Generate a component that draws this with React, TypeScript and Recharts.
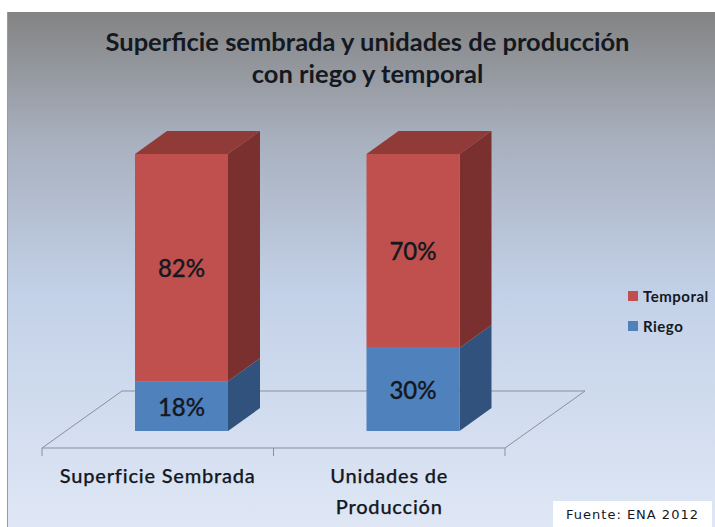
import React from "react";
import { BarChart, Bar, XAxis, YAxis, LabelList, Legend, usePlotArea } from "recharts";

const categories = ["Superficie Sembrada", "Unidades de\nProducción"];
const riego = [18, 30];
const temporal = [82, 70];
const titleLines = ["Superficie sembrada y unidades de producción", "con riego y temporal"];
const sourceNote = "Fuente: ENA 2012";

const rows = categories.map((name, i) => ({ name, riego: riego[i], temporal: temporal[i] }));

const FONT = "Lato, 'Open Sans', sans-serif";
const INK = "#14181f";
// Oblique projection of the fake 3D look
const DX = 32;
const DY = 23;
// Front faces sit on the floor, in from its front edge
const SHIFT_X = 24;
const SHIFT_Y = 17;
const FLOOR_DX = 80;
const FLOOR_DY = 57;

const pts = (a: number[][]) => a.map((p) => p.join(",")).join(" ");

function Box(props: any) {
  const { x, y, width: w, height: h, front, side, top } = props;
  const l = x + SHIFT_X;
  const t = y - SHIFT_Y;
  const r = l + w;
  const b = t + h;
  return (
    <g>
      {top && <polygon points={pts([[l, t], [l + DX, t - DY], [r + DX, t - DY], [r, t]])} fill={top} />}
      <polygon points={pts([[r, t], [r + DX, t - DY], [r + DX, b - DY], [r, b]])} fill={side} />
      <rect x={l} y={t} width={w} height={h} fill={front} />
    </g>
  );
}

function Pct(props: any) {
  const { x, y, width, height, value } = props;
  return (
    <text
      x={x + SHIFT_X + width / 2}
      y={y - SHIFT_Y + height / 2}
      textAnchor="middle"
      dominantBaseline="central"
      fontFamily={FONT}
      fontSize={24}
      fontWeight={500}
      stroke={INK}
      strokeWidth={0.3}
      fill={INK}
    >
      {value}%
    </text>
  );
}

function Floor() {
  const area = usePlotArea();
  if (!area) return null;
  const { x, y, width, height } = area;
  const yb = y + height;
  const stroke = "#8b9097";
  return (
    <g>
      <polygon
        points={pts([[x, yb], [x + width, yb], [x + width + FLOOR_DX, yb - FLOOR_DY], [x + FLOOR_DX, yb - FLOOR_DY]])}
        fill="none"
        stroke={stroke}
        strokeWidth={1}
      />
      {[0, 0.5, 1].map((f) => (
        <line key={f} x1={x + width * f} x2={x + width * f} y1={yb} y2={yb + 8} stroke={stroke} strokeWidth={1} />
      ))}
    </g>
  );
}

function CategoryTick(props: any) {
  const { x, y, payload } = props;
  const lines = String(payload.value).split("\n");
  return (
    <text
      textAnchor="middle"
      fontFamily={FONT}
      fontSize={20}
      letterSpacing={0.8}
      fontWeight={500}
      stroke={INK}
      strokeWidth={0.25}
      fill={INK}
    >
      {lines.map((line, i) => (
        <tspan key={line} x={x} y={y + 27 + i * 31}>
          {line}
        </tspan>
      ))}
    </text>
  );
}

function LegendBox(props: any) {
  const items = [...(props.payload || [])].reverse();
  return (
    <div style={{ fontFamily: FONT, fontSize: 15, letterSpacing: 0.5, fontWeight: 700, color: INK }}>
      {items.map((it: any) => (
        <div key={it.value} style={{ display: "flex", alignItems: "center", height: 30 }}>
          <span style={{ width: 10, height: 10, background: it.color, marginRight: 5, display: "inline-block" }} />
          {it.value}
        </div>
      ))}
    </div>
  );
}

export default function App() {
  return (
    <div style={{ position: "absolute", left: 0, top: 0, width: 715, height: 527, background: "#fff", overflow: "hidden" }}>
      <div
        style={{
          position: "absolute",
          left: 7,
          top: 12,
          width: 708,
          height: 515,
          borderLeft: "1px solid #9a9a9a",
          boxSizing: "border-box",
          background: "linear-gradient(180deg,#838383 0%,#a7afbd 24%,#c3d1e8 55%,#dfe7f5 100%)",
        }}
      />
      <div
        style={{
          position: "absolute",
          left: 0,
          top: 9,
          width: 735,
          textAlign: "center",
          fontFamily: FONT,
          fontSize: 25.5,
          fontWeight: 700,
          lineHeight: "32px",
          color: INK,
          paddingTop: 16,
        }}
      >
        <div>{titleLines[0]}</div>
        <div>{titleLines[1]}</div>
      </div>
      <div style={{ position: "absolute", left: 0, top: 0 }}>
        <BarChart width={715} height={527} data={rows} margin={{ left: 42, right: 118, top: 171, bottom: 0 }}>
          <Floor />
          <XAxis dataKey="name" axisLine={false} tickLine={false} tick={<CategoryTick />} interval={0} height={79} />
          <YAxis hide domain={[0, 100]} />
          <Legend
            layout="vertical"
            align="right"
            verticalAlign="top"
            wrapperStyle={{ left: 628, top: 281, width: 92 }}
            content={<LegendBox />}
          />
          <Bar
            dataKey="riego"
            name="Riego"
            stackId="a"
            fill="#4f81bd"
            barSize={93}
            isAnimationActive={false}
            shape={<Box front="#4f81bd" side="#30527c" />}
          >
            <LabelList dataKey="riego" content={<Pct />} />
          </Bar>
          <Bar
            dataKey="temporal"
            name="Temporal"
            stackId="a"
            fill="#c0504d"
            barSize={93}
            isAnimationActive={false}
            shape={<Box front="#c0504d" side="#7a302e" top="#913b38" />}
          >
            <LabelList dataKey="temporal" content={<Pct />} />
          </Bar>
        </BarChart>
      </div>
      <div
        style={{
          position: "absolute",
          left: 553,
          top: 501,
          width: 159,
          height: 26,
          background: "#fff",
          fontFamily: "'DejaVu Sans', sans-serif",
          fontSize: 13,
          letterSpacing: 1,
          lineHeight: "27px",
          textAlign: "center",
          color: INK,
        }}
      >
        {sourceNote}
      </div>
    </div>
  );
}
